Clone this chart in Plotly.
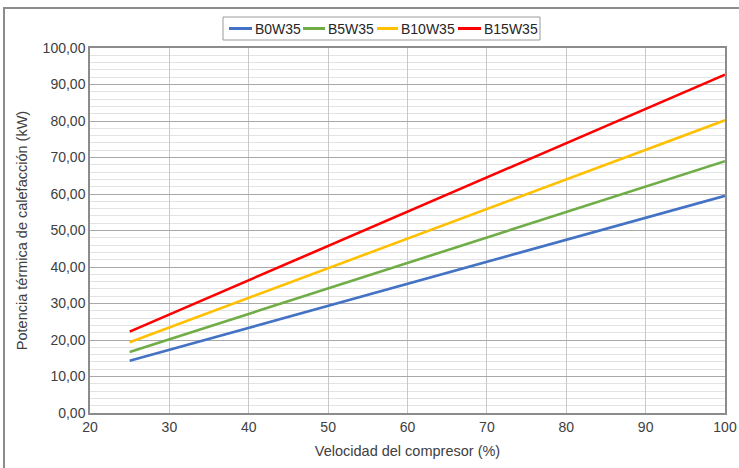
import plotly.graph_objects as go

# Compressor speed (%) and heating capacity (kW) per brine/water condition
speed = [25, 100]
b0w35 = [14.3, 59.5]
b5w35 = [16.7, 69.0]
b10w35 = [19.4, 80.2]
b15w35 = [22.3, 92.7]

series_names = ["B0W35", "B5W35", "B10W35", "B15W35"]
series_values = [b0w35, b5w35, b10w35, b15w35]
series_colors = ["#4472C4", "#70AD47", "#FFC000", "#FF0000"]

x_ticks = [20, 30, 40, 50, 60, 70, 80, 90, 100]
y_ticks = [0, 10, 20, 30, 40, 50, 60, 70, 80, 90, 100]

font_family = "Liberation Sans, Arial, sans-serif"
text_color = "#404040"

fig = go.Figure()
for name, vals, col in zip(series_names, series_values, series_colors):
    fig.add_trace(go.Scatter(
        x=speed, y=vals, name=name, mode="lines",
        line=dict(color=col, width=2.6), showlegend=False,
    ))

W, H = 739, 468
L, R, T, B = 90, 14, 48, 55
pw, ph = W - L - R, H - T - B

def px_x(p):
    return (p - L) / pw

def px_y(p):
    return 1 - (p - T) / ph

# outer chart-area frame
fig.add_shape(
    type="rect", xref="paper", yref="paper",
    x0=px_x(4), x1=px_x(W + 10), y0=px_y(H + 10), y1=px_y(8),
    line=dict(color="#8c8c8c", width=2), fillcolor="rgba(0,0,0,0)", layer="below",
)

# compact legend drawn above the plot: box, line samples and labels
leg_box = (223, 17, 540, 40)
leg_mid = 28.5
leg_items = [(229, 252, 253), (303, 325, 326), (377, 398, 399), (458, 481, 482)]
fig.add_shape(
    type="rect", xref="paper", yref="paper",
    x0=px_x(leg_box[0]), x1=px_x(leg_box[2]), y0=px_y(leg_box[3]), y1=px_y(leg_box[1]),
    line=dict(color="#9a9a9a", width=1), fillcolor="white",
)
for name, col, (lx0, lx1, tx) in zip(series_names, series_colors, leg_items):
    fig.add_shape(
        type="line", xref="paper", yref="paper",
        x0=px_x(lx0), x1=px_x(lx1), y0=px_y(leg_mid), y1=px_y(leg_mid),
        line=dict(color=col, width=3),
    )
    fig.add_annotation(
        xref="paper", yref="paper", x=px_x(tx), y=px_y(leg_mid),
        xanchor="left", yanchor="middle", text=name, showarrow=False,
        font=dict(family=font_family, size=14, color="#262626"),
    )

fig.update_layout(
    width=W, height=H,
    margin=dict(l=L, r=R, t=T, b=B, autoexpand=False),
    paper_bgcolor="white", plot_bgcolor="white",
    separators=", ",
    font=dict(family=font_family, size=14, color=text_color),
    showlegend=False,
    xaxis=dict(
        range=[20, 100], tickvals=x_ticks, ticks="", automargin=False,
        showgrid=True, gridcolor="#c8c8c8", gridwidth=1,
        showline=True, linecolor="#8c8c8c", linewidth=1.5, mirror=True,
        zeroline=False,
        title=dict(text="Velocidad del compresor (%)", standoff=12,
                   font=dict(family=font_family, size=14.5, color=text_color)),
        tickfont=dict(family=font_family, size=14, color=text_color),
    ),
    yaxis=dict(
        range=[0, 100], tickvals=y_ticks, tickformat=".2f", ticks="", automargin=False,
        showgrid=True, gridcolor="#a8a8a8", gridwidth=1,
        minor=dict(dtick=2, showgrid=True, gridcolor="#e3e3e3", gridwidth=1),
        showline=True, linecolor="#8c8c8c", linewidth=1.5, mirror=True,
        zeroline=False,
        title=dict(text="Potencia térmica de calefacción (kW)", standoff=12,
                   font=dict(family=font_family, size=14.5, color=text_color)),
        tickfont=dict(family=font_family, size=14, color=text_color),
    ),
)

fig.write_html("out.html")
